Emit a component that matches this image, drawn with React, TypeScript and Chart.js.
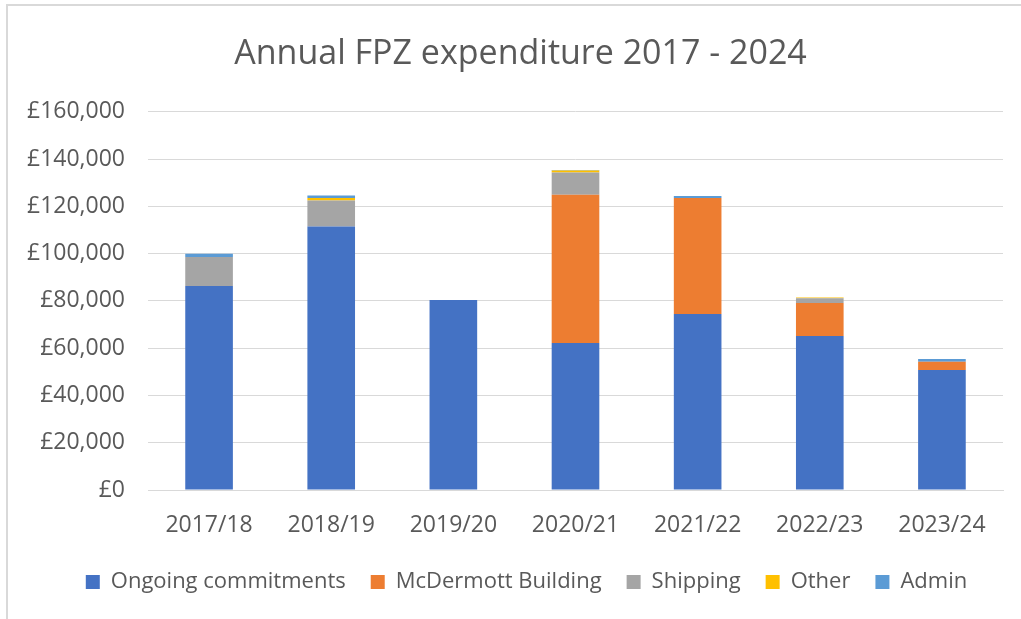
import React, { useEffect, useRef } from "react";
import { Chart, registerables } from "chart.js";

Chart.register(...registerables);

const categories = ["2017/18", "2018/19", "2019/20", "2020/21", "2021/22", "2022/23", "2023/24"];
const ongoing = [86300, 111500, 80400, 62200, 74500, 65200, 50800];
const mcdermott = [0, 0, 0, 62700, 49000, 13900, 3500];
const shipping = [12300, 11000, 0, 9400, 0, 2000, 0];
const other = [0, 1000, 0, 900, 0, 300, 0];
const admin = [1300, 1100, 0, 200, 900, 0, 1100];

const seriesNames = ["Ongoing commitments", "McDermott Building", "Shipping", "Other", "Admin"];
const seriesColors = ["#4472C4", "#ED7D31", "#A5A5A5", "#FFC000", "#5B9BD5"];
const yTicks = { min: 0, max: 160000, step: 20000 };
const title = "Annual FPZ expenditure 2017 - 2024";

const FONT = "'Open Sans', 'Noto Sans', sans-serif";
const TEXT = "#595959";

const shiftBlocks = {
  id: "shiftBlocks",
  afterLayout(chart: any) {
    if (chart.legend) chart.legend.left += 42;
    if (chart.titleBlock) chart.titleBlock.left += 30;
  },
};

export default function App() {
  const ref = useRef<HTMLCanvasElement | null>(null);

  useEffect(() => {
    document.body.style.margin = "0";
    document.body.style.overflow = "hidden";
    const ctx = ref.current;
    if (!ctx) return;
    const values = [ongoing, mcdermott, shipping, other, admin];
    const chart = new Chart(ctx, {
      type: "bar",
      data: {
        labels: categories,
        datasets: values.map((d, i) => ({
          label: seriesNames[i],
          data: d,
          backgroundColor: seriesColors[i],
          borderWidth: 0,
          categoryPercentage: 1,
          barPercentage: 0.39,
        })),
      },
      plugins: [shiftBlocks],
      options: {
        responsive: false,
        animation: false,
        layout: { padding: { left: 0, right: 35, top: 0, bottom: 33 } },
        plugins: {
          tooltip: { enabled: false },
          title: {
            display: true,
            text: title,
            color: TEXT,
            font: { family: FONT, size: 34, weight: "normal", lineHeight: 1.2 },
            padding: { top: 28, bottom: 37 },
          },
          legend: {
            position: "bottom",
            labels: {
              color: TEXT,
              font: { family: FONT, size: 22, lineHeight: 1.2 },
              boxWidth: 14,
              boxHeight: 14,
              padding: 25,
            },
          },
        },
        scales: {
          x: {
            stacked: true,
            grid: { display: false, drawTicks: false },
            border: { display: true, color: "#d9d9d9", width: 1 },
            ticks: {
              color: TEXT,
              padding: 22,
              font: { family: FONT, size: 23, lineHeight: 1.2 },
              maxRotation: 0,
            },
            afterFit: (axis: any) => {
              axis.height = 56;
            },
          },
          y: {
            stacked: true,
            min: yTicks.min,
            max: yTicks.max,
            grid: { color: "#d9d9d9", lineWidth: 1, drawTicks: false },
            border: { display: false },
            ticks: {
              stepSize: yTicks.step,
              color: TEXT,
              padding: 23,
              font: { family: FONT, size: 23, lineHeight: 1.2 },
              callback: (v: any) => "£" + Number(v).toLocaleString("en-GB"),
            },
            afterFit: (axis: any) => {
              axis.width = 140;
            },
          },
        },
      },
    });
    return () => chart.destroy();
  }, []);

  return (
    <div style={{ position: "fixed", left: 0, top: 0, width: 1021, height: 619, overflow: "hidden", background: "#fff" }}>
      <div
        style={{
          position: "absolute",
          left: 6,
          top: 4,
          width: 1030,
          height: 630,
          border: "2px solid #d9d9d9",
          background: "#fff",
        }}
      >
        <canvas ref={ref} width={1030} height={630} style={{ display: "block" }} />
      </div>
    </div>
  );
}
